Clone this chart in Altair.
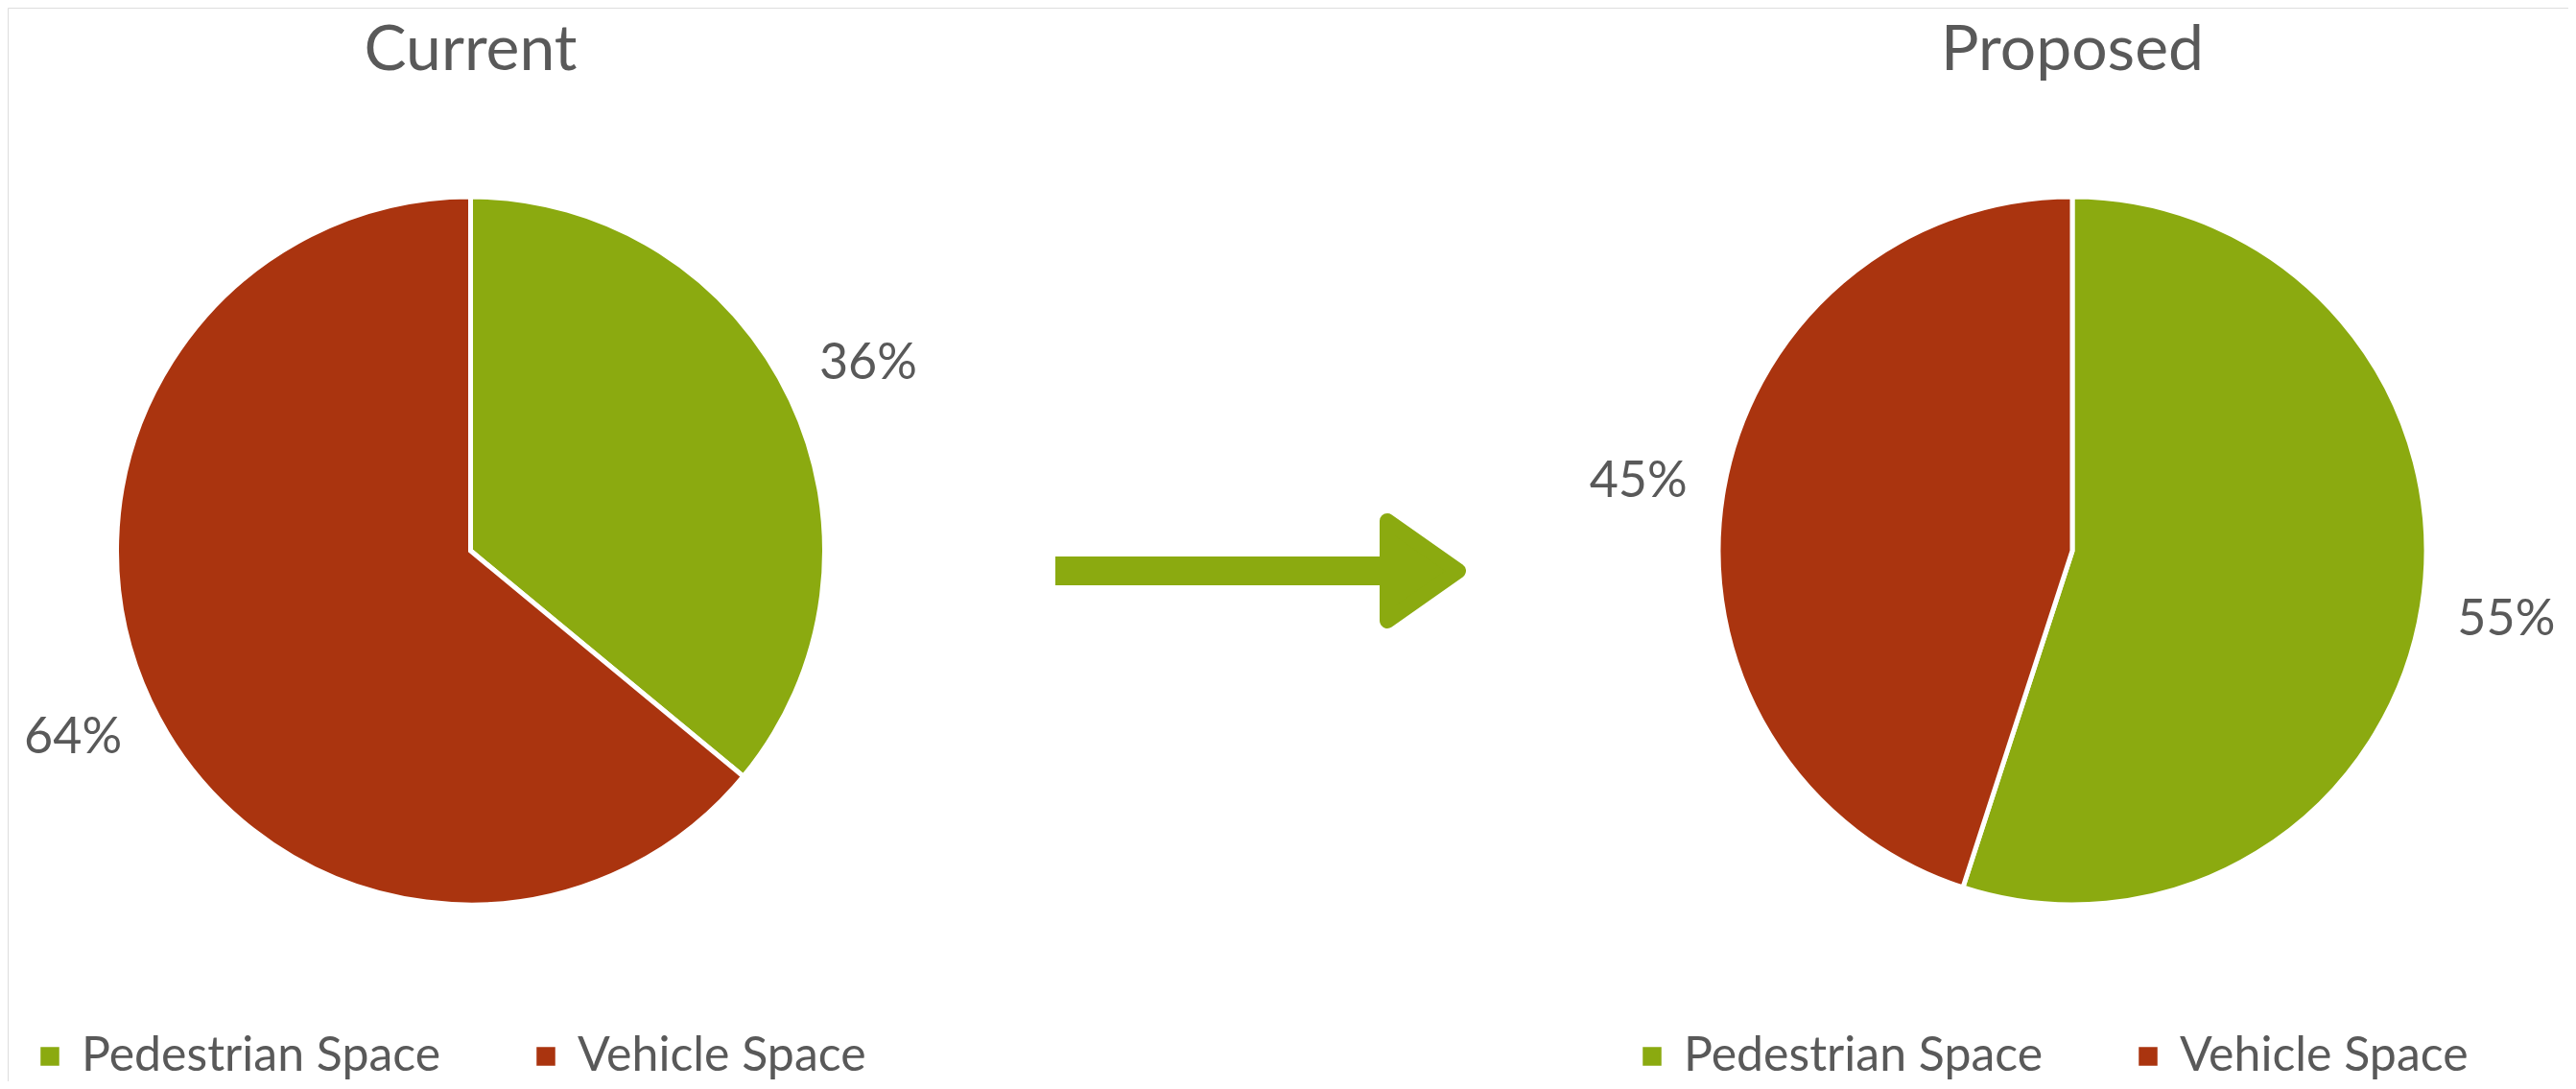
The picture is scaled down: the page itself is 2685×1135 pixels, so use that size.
import altair as alt
import pandas as pd

# ---- data ----
categories = ["Pedestrian Space", "Vehicle Space"]
current_values = [36, 64]
proposed_values = [55, 45]
pie_titles = ["Current", "Proposed"]
colors = ["#8BAA10", "#AA340F"]

FONT = "Lato"
GRAY = "#595959"
W, H = 2669, 1119
R = 369


def pie_df(values):
    return pd.DataFrame({
        "category": categories,
        "value": values,
        "order": list(range(len(categories))),
        "label": [f"{v}%" for v in values],
    })


def pie(values, title, cx, cy, legend_x):
    df = pie_df(values)
    base = alt.Chart(df)
    arc = base.mark_arc(radius=R, stroke="white", strokeWidth=5).encode(
        theta=alt.Theta("value:Q", stack=True),
        color=alt.Color(
            "category:N",
            scale=alt.Scale(domain=categories, range=colors),
            legend=alt.Legend(
                title=None, orient="none", legendX=legend_x, legendY=1068,
                direction="horizontal", symbolType="square", symbolSize=380,
                symbolStrokeWidth=0, labelFont=FONT, labelFontSize=50,
                labelColor=GRAY, labelOffset=8, columnPadding=84,
                labelLimit=0, padding=0,
            ),
        ),
        order=alt.Order("order:Q"),
        x=alt.value(cx), y=alt.value(cy),
    )
    labels = base.mark_text(radius=458, font=FONT, fontSize=52, color=GRAY).encode(
        theta=alt.Theta("value:Q", stack=True),
        text="label:N",
        detail="category:N",
        order=alt.Order("order:Q"),
        x=alt.value(cx), y=alt.value(cy),
    )
    ttl = alt.Chart(pd.DataFrame({"t": [title]})).mark_text(
        font=FONT, fontSize=66, color=GRAY, align="center", baseline="alphabetic"
    ).encode(text="t:N", x=alt.value(cx), y=alt.value(65))
    return arc, labels, ttl


la, ll, lt = pie(current_values, pie_titles[0], 482.5, 566, 19)
ra, rl, rt = pie(proposed_values, pie_titles[1], 2152, 566, 1689)

arrow_df = pd.DataFrame({"k": ["arrow"]})
shaft = alt.Chart(arrow_df).mark_rule(color=colors[0], strokeWidth=30, strokeCap="butt").encode(
    x=alt.value(1092), x2=alt.value(1445), y=alt.value(587)
)
head = alt.Chart(arrow_df).mark_point(
    shape="M -0.7115 -1 L 0.7115 0 L -0.7115 1 Z", size=10816, filled=True,
    fill=colors[0], stroke=colors[0], strokeWidth=16, strokeJoin="round", opacity=1,
).encode(x=alt.value(1475), y=alt.value(587))

chart = alt.layer(la, ll, lt, ra, rl, rt, shaft, head).resolve_scale(
    color="independent", theta="independent"
).resolve_legend(color="independent").properties(
    width=W, height=H, padding=0, autosize=alt.AutoSizeParams(type="none")
).configure_view(stroke="transparent", strokeWidth=0).configure(background="white")

chart.save("out.html", embed_options={"renderer": "svg", "actions": False})
